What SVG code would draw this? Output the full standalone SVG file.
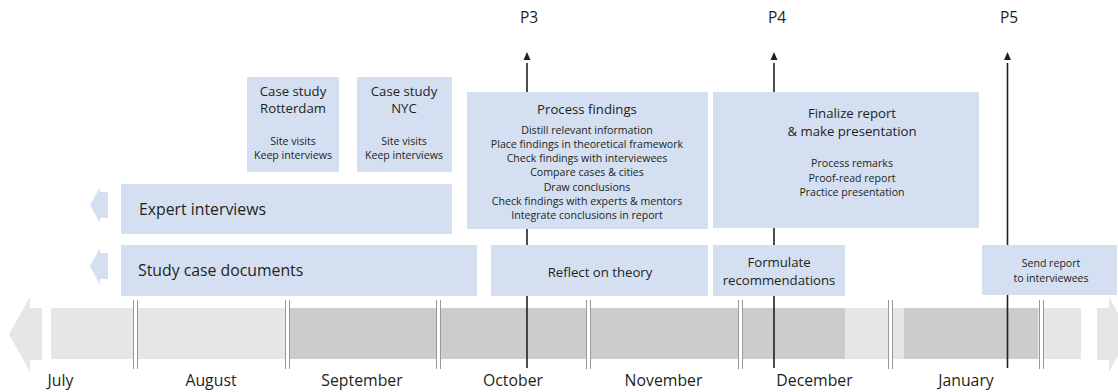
<svg xmlns="http://www.w3.org/2000/svg" width="1118" height="392" viewBox="0 0 1118 392">
<defs>
<style>
text{font-family:"Open Sans","Noto Sans","Liberation Sans",sans-serif;fill:#231f20}
.box{fill:#d4e0f1}
.light{fill:#e6e6e6}
.dark{fill:#cccccc}
.sep{stroke:#999;stroke-width:1}
.conn{stroke:#231f20;stroke-width:1.6;fill:none}
.month{font-size:15.8px;text-anchor:middle}
.big{font-size:15.8px}
.title{font-size:13.2px;text-anchor:middle}
.item{font-size:10.6px;text-anchor:middle}
.p{font-size:15.5px;text-anchor:middle}
</style>
<marker id="ah" viewBox="0 -4 12 8" refX="0" refY="0" markerWidth="12" markerHeight="8" markerUnits="userSpaceOnUse" orient="auto">
<path d="M3,-3.5 L11,0 L3,3.5 Z" fill="#231f20"/>
</marker>
</defs>
<rect width="1118" height="392" fill="#ffffff"/>

<g id="timeline">
<polygon class="light" points="9,334 30,297 30,308 42,308 42,360 30,360 30,372"/>
<rect class="light" x="51" y="308" width="1030" height="51"/>
<rect class="dark" x="290" y="308" width="555" height="51"/>
<rect class="dark" x="904" y="308" width="134" height="51"/>
<polygon class="light" points="1097,308 1109,308 1109,297 1130,334 1109,372 1109,360 1097,360"/>
<g id="month-separators">
<rect x="133.5" y="300" width="4" height="69" fill="#fff"/><line class="sep" x1="133.5" y1="300" x2="133.5" y2="369"/><line class="sep" x1="137.5" y1="300" x2="137.5" y2="369"/>
<rect x="285.5" y="300" width="4" height="69" fill="#fff"/><line class="sep" x1="285.5" y1="300" x2="285.5" y2="369"/><line class="sep" x1="289.5" y1="300" x2="289.5" y2="369"/>
<rect x="436.5" y="300" width="4" height="69" fill="#fff"/><line class="sep" x1="436.5" y1="300" x2="436.5" y2="369"/><line class="sep" x1="440.5" y1="300" x2="440.5" y2="369"/>
<rect x="586.5" y="300" width="4" height="69" fill="#fff"/><line class="sep" x1="586.5" y1="300" x2="586.5" y2="369"/><line class="sep" x1="590.5" y1="300" x2="590.5" y2="369"/>
<rect x="738.5" y="300" width="4" height="69" fill="#fff"/><line class="sep" x1="738.5" y1="300" x2="738.5" y2="369"/><line class="sep" x1="742.5" y1="300" x2="742.5" y2="369"/>
<rect x="888.5" y="300" width="4" height="69" fill="#fff"/><line class="sep" x1="888.5" y1="300" x2="888.5" y2="369"/><line class="sep" x1="892.5" y1="300" x2="892.5" y2="369"/>
<rect x="1039.5" y="300" width="4" height="69" fill="#fff"/><line class="sep" x1="1039.5" y1="300" x2="1039.5" y2="369"/><line class="sep" x1="1043.5" y1="300" x2="1043.5" y2="369"/>
</g>
<g id="months">
<text class="month" x="60.5" y="386">July</text>
<text class="month" x="211" y="386">August</text>
<text class="month" x="362" y="386">September</text>
<text class="month" x="513" y="386">October</text>
<text class="month" x="663.5" y="386">November</text>
<text class="month" x="814.5" y="386">December</text>
<text class="month" x="966" y="386">January</text>
</g>
</g>

<g id="connectors">
<line class="conn" x1="527" y1="368" x2="527" y2="63" marker-end="url(#ah)"/>
<line class="conn" x1="774" y1="368" x2="774" y2="63" marker-end="url(#ah)"/>
<line class="conn" x1="1007.5" y1="368" x2="1007.5" y2="63" marker-end="url(#ah)"/>
</g>

<g id="milestones">
<text class="p" x="529" y="23">P3</text>
<text class="p" x="777" y="23">P4</text>
<text class="p" x="1009" y="23">P5</text>
</g>

<g id="case-rotterdam">
<rect class="box" x="247" y="77" width="92" height="95"/>
<text class="title" x="293" y="96">Case study</text>
<text class="title" x="293" y="113">Rotterdam</text>
<text class="item" x="293" y="145">Site visits</text>
<text class="item" x="293" y="159">Keep interviews</text>
</g>

<g id="case-nyc">
<rect class="box" x="357" y="77" width="95" height="95"/>
<text class="title" x="404" y="96">Case study</text>
<text class="title" x="404" y="113">NYC</text>
<text class="item" x="404" y="145">Site visits</text>
<text class="item" x="404" y="159">Keep interviews</text>
</g>

<g id="expert-interviews">
<polygon class="box" points="90,205 100,187 100,192 108,192 108,218 100,218 100,223"/>
<rect class="box" x="121" y="184" width="331" height="50"/>
<text class="big" x="139" y="215">Expert interviews</text>
</g>

<g id="study-case-documents">
<polygon class="box" points="90,266 100,248 100,253 108,253 108,279 100,279 100,285"/>
<rect class="box" x="121" y="245" width="356" height="51"/>
<text class="big" x="138" y="276">Study case documents</text>
</g>

<g id="process-findings">
<rect class="box" x="467" y="92" width="241" height="137"/>
<text class="title" x="587" y="114">Process findings</text>
<text class="item" x="587" y="133.5">Distill relevant information</text>
<text class="item" x="587" y="147.8">Place findings in theoretical framework</text>
<text class="item" x="587" y="162.1">Check findings with interviewees</text>
<text class="item" x="587" y="176.4">Compare cases &amp; cities</text>
<text class="item" x="587" y="190.7">Draw conclusions</text>
<text class="item" x="587" y="205">Check findings with experts &amp; mentors</text>
<text class="item" x="587" y="219.3">Integrate conclusions in report</text>
</g>

<g id="finalize-report">
<rect class="box" x="713" y="92" width="266" height="136"/>
<text class="title" x="852" y="118">Finalize report</text>
<text class="title" x="852" y="136">&amp; make presentation</text>
<text class="item" x="852" y="167">Process remarks</text>
<text class="item" x="852" y="181.5">Proof-read report</text>
<text class="item" x="852" y="196">Practice presentation</text>
</g>

<g id="reflect-on-theory">
<rect class="box" x="491" y="245" width="217" height="51"/>
<text class="title" x="600" y="276.5">Reflect on theory</text>
</g>

<g id="formulate-recommendations">
<rect class="box" x="713" y="245" width="132" height="51"/>
<text class="title" x="779" y="267">Formulate</text>
<text class="title" x="779" y="285">recommendations</text>
</g>

<g id="send-report">
<rect class="box" x="982" y="245" width="135" height="50"/>
<text class="item" x="1051" y="267">Send report</text>
<text class="item" x="1051" y="282">to interviewees</text>
</g>
</svg>
